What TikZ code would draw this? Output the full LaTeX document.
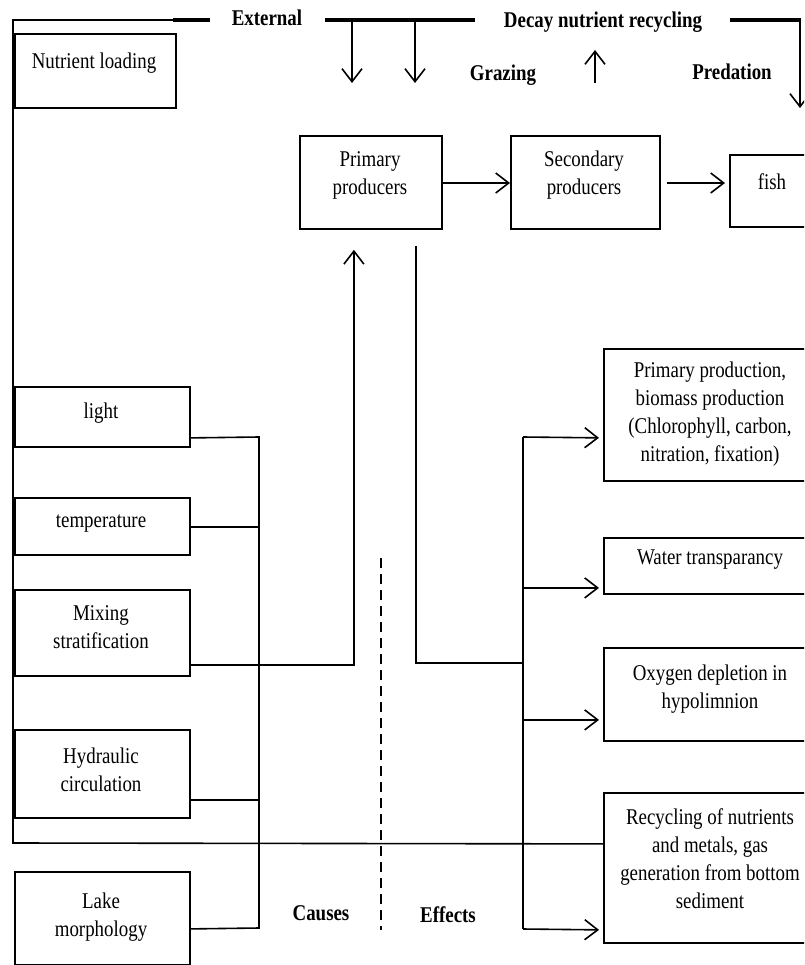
\documentclass[tikz,border=0pt]{standalone}
\usepackage{fontspec}
\setmainfont{Liberation Serif}[FakeStretch=0.84]
\usetikzlibrary{arrows.meta}
\begin{document}
\begin{tikzpicture}[x=1pt,y=-1pt,
  box/.style={draw,line width=1.8pt,rectangle,inner sep=0pt,anchor=north west},
  txt/.style={font=\fontsize{22.5}{28}\selectfont,align=center,inner sep=0pt},
  btxt/.style={font=\fontsize{22.5}{28}\selectfont\bfseries,align=center,inner sep=0pt},
  ln/.style={line width=1.6pt},
  bar/.style={line width=4pt},
  arr/.style={ln,-{Straight Barb[length=13pt,width=20pt,line width=1.6pt]}},
  dashline/.style={line width=1.3pt,dash pattern=on 10pt off 6pt}
]
\useasboundingbox (0,0) rectangle (804,965);
\clip (0,0) rectangle (804,965);
\fill[white] (0,0) rectangle (804,965);

% boxes
\node[box,minimum width=161pt,minimum height=74pt] (nl) at (14,33) {};
\node[box,minimum width=142pt,minimum height=93pt] (prim) at (299,135) {};
\node[box,minimum width=149pt,minimum height=93pt] (sec) at (510,135) {};
\node[box,minimum width=90pt,minimum height=72pt] (fish) at (729,154) {};
\node[box,minimum width=175pt,minimum height=60pt] (light) at (14,386) {};
\node[box,minimum width=175pt,minimum height=57pt] (temp) at (14,497) {};
\node[box,minimum width=175pt,minimum height=86pt] (mix) at (14,589) {};
\node[box,minimum width=175pt,minimum height=88pt] (hyd) at (14,729) {};
\node[box,minimum width=175pt,minimum height=93pt] (lake) at (14,871) {};
\node[box,minimum width=215pt,minimum height=132pt] (ppb) at (603,348) {};
\node[box,minimum width=215pt,minimum height=56pt] (wat) at (603,537) {};
\node[box,minimum width=215pt,minimum height=93pt] (oxy) at (603,647) {};
\node[box,minimum width=215pt,minimum height=150pt] (rec) at (603,792) {};

% box texts
\node[txt] (nlt) at (94,63) {Nutrient loading};
\node[txt] (primt) at (370,175) {Primary\\producers};
\node[txt] (sect) at (584,175) {Secondary\\producers};
\node[txt] (fisht) at (772,182) {fish};
\node[txt] (lightt) at (101,413) {light};
\node[txt] (tempt) at (101,524) {temperature};
\node[txt] (mixt) at (101,627.5) {Mixing\\stratification};
\node[txt] (hydt) at (101,770) {Hydraulic\\circulation};
\node[txt] (laket) at (101,917.5) {Lake\\morphology};
\node[txt] (ppbt) at (710,414) {Primary production,\\biomass production\\(Chlorophyll, carbon,\\nitration, fixation)};
\node[txt] (watt) at (710,560) {Water transparancy};
\node[txt] (oxyt) at (710,689) {Oxygen depletion in\\hypolimnion};
\node[txt] (rect) at (710,858.5) {Recycling of nutrients\\and metals, gas\\generation from bottom\\sediment};

% bold labels
\node[btxt] (ext) at (267,18) {External};
\node[btxt] (decay) at (603,22) {Decay nutrient recycling};
\node[btxt] (graz) at (503,75) {Grazing};
\node[btxt] (pred) at (732,72) {Predation};
\node[btxt] (causes) at (321,913) {Causes};
\node[btxt] (effects) at (448,915) {Effects};

% coordinates
\coordinate (tl) at (13,20);
\coordinate (bl) at (13,843);
\coordinate (thinend) at (173,20);
\coordinate (b1s) at (210,20);
\coordinate (b2a) at (325,20);
\coordinate (b2b) at (475,20);
\coordinate (b3a) at (730,20);
\coordinate (b3b) at (801,20);
\coordinate (d1a) at (352,20);
\coordinate (d1b) at (352,83);
\coordinate (d2a) at (415,20);
\coordinate (d2b) at (415,83);
\coordinate (upa) at (595,83);
\coordinate (upb) at (595,50);
\coordinate (pra) at (800,20);
\coordinate (prb) at (800,108);
\coordinate (recin) at ([yshift=24pt]rec.west);

% top line and left frame
\draw[ln] (recin) -- (bl) -- (tl) -- (thinend);
\draw[bar] (thinend) -- (b1s);
\draw[bar] (b2a) -- (b2b);
\draw[bar] (b3a) -- (b3b);
\draw[arr] (d1a) -- (d1b);
\draw[arr] (d2a) -- (d2b);
\draw[arr] (upa) -- (upb);
\draw[arr] (pra) -- (prb);

% food chain
\draw[arr] (prim.east |- 0,183) -- (sec.west |- 0,183);
\draw[arr] ([xshift=6pt]sec.east |- 0,183) -- ([xshift=-4pt]fish.west |- 0,183);

% causes bus
\coordinate (lightout) at ([yshift=-21pt]light.east);
\coordinate (tempout) at ([yshift=-0.5pt]temp.east);
\coordinate (hydout) at ([yshift=-26pt]hyd.east);
\coordinate (lakeout) at ([yshift=-10.5pt]lake.east);
\coordinate (cb1) at (259,437);
\coordinate (cb2) at (259,928);
\draw[ln] (lightout) -- (cb1) -- (cb2) -- (lakeout);
\draw[ln] (tempout) -- (tempout -| cb1);
\draw[ln] (hydout) -- (hydout -| cb1);

% mixing -> primary producers
\coordinate (mixout) at ([yshift=-32pt]mix.east);
\coordinate (primin) at ([xshift=-17pt,yshift=-20pt]prim.south);
\draw[arr] (mixout) -| (primin);

% primary producers -> effects
\coordinate (primout) at ([xshift=45pt,yshift=-16pt]prim.south);
\coordinate (eb0) at (523,663);
\coordinate (eb1) at (523,437);
\coordinate (eb4) at (523,929);
\draw[ln] (primout) |- (eb0);
\draw[ln] (eb1) -- (eb4);
\coordinate (ppbin) at ([yshift=-23pt]ppb.west);
\coordinate (watin) at ([yshift=-22pt]wat.west);
\coordinate (oxyin) at ([yshift=-25.5pt]oxy.west);
\coordinate (recin2) at ([yshift=-62pt]rec.west);
\draw[arr,shorten >=4pt] (eb1) -- (ppbin);
\draw[arr,shorten >=4pt] (watin -| eb1) -- (watin);
\draw[arr,shorten >=4pt] (oxyin -| eb1) -- (oxyin);
\draw[arr,shorten >=4pt] (eb4) -- (recin2);

% causes / effects divider
\coordinate (dv1) at (381,558);
\coordinate (dv2) at (381,930);
\draw[dashline] (dv1) -- (dv2);
\end{tikzpicture}
\end{document}
